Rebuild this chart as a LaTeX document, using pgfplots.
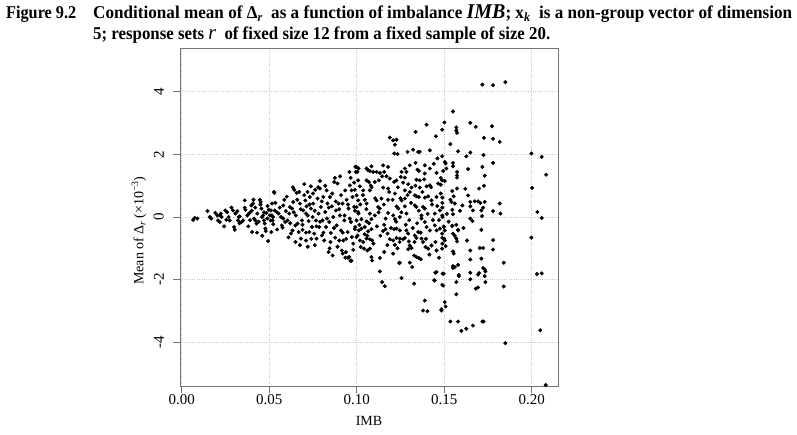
\documentclass[border=0pt]{standalone}
\usepackage{pgfplots}
\pgfplotsset{compat=1.18}
\usepackage{fontspec}
\setmainfont{Liberation Serif}
\begin{document}
\begin{tikzpicture}[x=1pt,y=1pt]
\path[use as bounding box] (0pt,0pt) rectangle (797pt,-435pt);
\node[anchor=base west, inner sep=0] at (6pt,-19pt) {\resizebox{70pt}{\height}{\fontsize{18}{20}\selectfont\bfseries Figure 9.2}};
\node[anchor=base west, inner sep=0] at (93pt,-19pt) {\resizebox{699pt}{\height}{\fontsize{18}{20}\selectfont\bfseries Conditional mean of Δ\textsubscript{\itshape r}\ \ as a function of imbalance {\itshape\fontsize{21}{21}\selectfont IMB}; x\textsubscript{\itshape k}\ \ is a non-group vector of dimension}};
\node[anchor=base west, inner sep=0] at (93pt,-40pt) {\resizebox{457pt}{\height}{\fontsize{18}{20}\selectfont\bfseries 5; response sets {\mdseries\itshape\fontsize{21}{21}\selectfont r}\ \ of fixed size 12 from a fixed sample of size 20.}};
\begin{axis}[
  at={(180pt,-386pt)}, anchor=south west,
  scale only axis, width=378pt, height=338pt,
  xmin=-0.001, xmax=0.215, ymin=-5.4, ymax=5.4,
  axis line style={draw=black!55, line width=0.8pt},
  tick style={draw=black!55, line width=0.8pt},
  tick align=outside, major tick length=7pt, tick pos=left,
  xtick={0,0.05,0.1,0.15,0.2}, xticklabels={0.00,0.05,0.10,0.15,0.20},
  ytick={-4,-2,0,2,4},
  yticklabels={\rotatebox{90}{-4},\rotatebox{90}{-2},\rotatebox{90}{0},\rotatebox{90}{2},\rotatebox{90}{4}},
  grid=major, grid style={dotted, black!22, line width=0.7pt},
  ticklabel style={font=\fontsize{15}{15}\selectfont},
  yticklabel style={anchor=east, inner sep=0pt, xshift=-9pt},
  xticklabel style={anchor=north, yshift=2pt},
  xlabel={IMB}, ylabel={Mean of Δ\textsubscript{\itshape r}\,(×10\textsuperscript{−3})},
  label style={font=\fontsize{14}{14}\selectfont},
  xlabel style={at={(axis description cs:0.5,0)}, anchor=north, inner sep=0pt, yshift=-30pt},
  ylabel style={at={(axis description cs:0,0.46)}, anchor=center, inner sep=0pt, yshift=41pt},
  clip=false,
]
\addplot[only marks, mark=*, mark size=1.8pt, black] coordinates {
(0.0065,-0.09)(0.0074,-0.03)(0.0089,-0.05)(0.0147,0.19)(0.0160,0.0)(0.0169,-0.05)(0.0192,0.13)(0.0204,0.05)(0.0207,-0.11)(0.0217,-0.16)(0.0223,0.11)(0.0227,0.0)(0.0242,-0.30)(0.0249,0.21)(0.0255,-0.09)(0.0268,0.0)(0.0274,-0.11)(0.0284,0.30)(0.0293,0.21)(0.0299,-0.32)(0.0303,-0.41)(0.0307,0.11)(0.0318,0.19)(0.0322,-0.11)(0.0326,0.0)(0.0331,0.02)(0.0341,-0.16)(0.0350,-0.11)(0.0360,0.53)(0.0364,0.23)(0.0375,0.05)(0.0383,0.11)(0.0388,0.13)(0.0398,0.37)(0.0402,-0.48)(0.0407,0.43)(0.0413,-0.05)(0.0421,-0.11)(0.0427,-0.21)(0.0432,0.11)(0.0446,0.55)(0.0451,0.48)(0.0455,0.27)(0.0459,0.0)(0.0465,0.05)(0.0470,-0.11)(0.0474,-0.21)(0.0478,-0.37)(0.0484,0.13)(0.0489,-0.05)(0.0493,-0.77)(0.0497,0.23)(0.0503,0.05)(0.0508,-0.11)(0.0512,-0.48)(0.0516,0.43)(0.0522,0.0)(0.0527,0.80)(0.0531,0.21)
(0.022,0.05)(0.026,0.15)(0.033,-0.2)(0.036,0.3)(0.038,-0.3)(0.040,0.2)(0.042,0.3)(0.044,-0.15)(0.045,0.4)(0.047,0.15)(0.048,-0.45)(0.049,0.35)(0.046,-0.6)(0.043,-0.5)(0.039,-0.1)(0.041,0.55)
(0.0529,0.77)(0.0510,0.21)(0.0515,0.05)(0.0519,-0.11)(0.0523,-0.23)(0.0542,0.16)(0.0553,0.11)(0.0567,0.0)(0.0572,-0.27)(0.0576,-0.34)(0.0580,0.37)(0.0586,0.55)(0.0595,0.19)(0.0591,-0.16)(0.0605,-0.11)(0.0614,0.11)(0.0618,0.32)(0.0624,-0.53)(0.0630,0.27)(0.0633,-0.43)(0.0637,0.48)(0.0643,0.87)(0.0649,-0.27)(0.0652,0.05)(0.0656,0.77)(0.0662,-0.21)(0.0668,-0.48)(0.0671,0.80)(0.0675,0.43)(0.0681,-0.69)(0.0687,-0.11)(0.0690,-0.41)(0.0694,0.21)(0.0700,1.05)(0.0706,0.53)(0.0710,-0.75)(0.0710,0.11)(0.0713,0.34)(0.0719,0.80)(0.0725,-0.13)(0.0729,-0.48)(0.0732,0.64)(0.0738,0.27)(0.0738,0.98)(0.0744,-0.32)(0.0748,0.0)(0.0751,0.43)(0.0757,-0.53)(0.0763,0.87)(0.0767,-0.11)(0.0770,-0.69)(0.0776,0.59)(0.0782,0.11)(0.0786,-0.32)(0.0790,0.91)(0.0795,0.32)(0.0801,-0.59)(0.0805,-0.11)(0.0809,0.64)(0.0814,-0.75)(0.0820,0.16)(0.0824,-0.32)(0.0828,0.85)(0.0833,0.43)(0.0839,-1.12)(0.0843,-0.16)(0.0847,0.64)(0.0852,-0.51)(0.0858,0.34)(0.0862,-1.23)(0.0866,0.0)(0.0871,1.12)(0.0877,-0.66)(0.0881,0.21)(0.0885,-0.27)(0.0890,1.07)(0.0896,0.43)(0.0900,-0.75)(0.0904,0.05)(0.0910,-0.43)(0.0915,-1.07)(0.0919,0.43)(0.0923,-0.75)(0.0929,-0.11)(0.0934,0.85)(0.0938,-1.12)(0.0942,0.55)(0.0948,-0.48)(0.0953,0.27)(0.0957,-1.28)(0.0961,1.01)(0.0967,-0.16)(0.0972,-0.64)(0.0976,0.64)(0.0980,-0.85)(0.0986,0.32)(0.0991,-0.32)(0.0995,1.44)(0.0999,0.69)(0.1005,-0.59)(0.1010,1.55)(0.1010,0.11)
(0.0535,0.45)(0.0545,-0.4)(0.056,0.3)(0.058,-0.05)(0.060,0.65)(0.062,-0.2)(0.064,0.15)(0.065,-0.8)(0.066,0.55)(0.068,0.25)(0.069,-0.25)(0.070,0.7)(0.071,-0.5)(0.072,0.05)(0.073,0.4)(0.074,-0.7)(0.075,0.75)(0.076,0.2)(0.077,-0.3)(0.078,0.95)(0.079,-0.15)(0.080,0.5)(0.081,-0.5)(0.082,1.0)(0.083,-0.05)(0.084,0.3)(0.085,-0.8)(0.086,0.75)(0.087,-0.35)(0.088,0.5)(0.089,-0.95)(0.090,0.25)(0.091,0.7)(0.092,-0.5)(0.093,0.05)(0.094,-0.7)(0.095,0.4)(0.096,-0.05)(0.097,0.85)(0.098,-1.05)(0.099,0.2)(0.0905,1.3)(0.0935,-1.3)(0.0965,1.25)(0.097,-1.4)(0.0985,1.1)(0.0875,1.25)(0.076,-0.9)(0.079,1.15)(0.072,-0.95)(0.0675,-0.9)(0.0635,0.95)(0.061,-0.65)(0.0845,-1.0)
(0.0964,-1.40)(0.0949,-1.30)(0.0920,-1.17)(0.0958,1.44)(0.0992,1.60)
(0.1399,2.95)(0.1336,2.72)(0.1488,2.79)(0.1452,2.58)(0.1189,2.54)(0.1208,2.45)(0.1227,2.47)(0.1218,2.31)(0.1214,2.03)(0.1233,2.01)(0.1290,2.08)(0.1322,2.15)(0.1351,2.08)(0.1360,2.08)(0.1418,2.13)(0.1461,1.87)(0.1488,1.94)(0.1336,1.73)(0.1303,1.65)(0.1275,1.55)(0.1256,1.44)(0.1284,1.44)(0.1347,1.51)(0.1355,1.47)(0.1389,1.65)(0.1418,1.55)(0.1456,1.41)(0.1494,1.47)(0.0999,1.60)(0.1004,1.44)(0.1056,1.55)(0.1065,1.49)(0.1075,1.47)(0.1084,1.62)(0.1094,1.44)(0.1113,1.44)(0.1132,1.41)(0.1151,1.65)(0.1179,1.60)(0.1157,1.44)(0.1170,1.30)(0.1008,1.17)(0.1018,0.98)(0.1056,1.17)(0.1069,1.12)(0.1080,1.01)(0.1103,1.12)(0.1126,1.17)(0.1189,1.23)(0.1214,1.12)(0.1227,1.17)(0.1252,1.28)(0.1275,1.26)(0.1294,1.05)(0.1313,0.94)(0.1341,1.19)(0.1360,1.17)(0.1389,1.39)(0.1399,0.98)(0.1418,1.01)(0.1465,1.07)(0.1488,1.17)(0.0989,0.87)(0.1037,0.85)(0.1075,0.85)(0.1151,0.94)(0.1179,0.91)(0.1218,0.75)(0.1275,0.85)(0.1303,0.80)(0.1360,0.94)(0.1332,0.69)(0.1341,0.66)(0.1355,0.64)(0.1389,0.62)(0.1408,0.66)(0.1456,0.64)(0.1480,0.75)(0.1046,0.55)(0.1008,0.53)(0.1113,0.53)(0.1141,0.59)(0.1179,0.55)(0.1256,0.53)(0.1275,0.59)(0.1427,0.53)(0.0999,0.32)(0.1056,0.43)(0.1122,0.32)(0.1132,0.27)(0.1227,0.34)(0.1237,0.27)(0.1275,0.34)(0.1332,0.37)(0.1341,0.32)(0.1379,0.32)(0.1389,0.27)(0.1475,0.21)(0.1008,0.16)(0.1075,0.11)(0.1103,0.05)(0.1179,0.13)(0.1208,0.05)(0.1284,0.11)(0.1370,0.05)(0.1446,0.11)
(0.0999,-0.11)(0.1027,-0.07)(0.1056,-0.14)(0.1084,-0.07)(0.0989,-0.39)(0.1012,-0.43)(0.1027,-0.37)(0.1046,-0.32)(0.1065,-0.46)(0.1084,-0.39)(0.0999,-0.64)(0.1018,-0.75)(0.1037,-0.80)(0.1056,-0.69)(0.1075,-0.71)(0.1088,-0.75)(0.1023,-0.96)(0.1042,-1.01)(0.1061,-1.07)(0.1075,-1.01)(0.1084,-1.28)(0.1088,-1.39)(0.1132,-1.31)(0.1132,-1.74)(0.1145,-2.08)(0.1160,-2.21)(0.1157,-0.25)(0.1164,-0.39)(0.1176,-0.53)(0.1189,-0.71)(0.1208,-0.75)(0.1157,-1.12)(0.1214,-0.39)(0.1227,-0.37)(0.1246,-0.43)(0.1218,-0.07)(0.1246,0.0)(0.1227,-0.67)(0.1246,-0.69)(0.1265,-0.71)(0.1218,-0.89)(0.1233,-1.0)(0.1208,-1.17)(0.1246,-1.46)(0.1256,-1.95)(0.1284,-0.43)(0.1294,-0.53)(0.1275,-0.67)(0.1298,-0.78)(0.1303,-0.91)(0.1313,-0.99)(0.1294,-1.03)(0.1303,-1.46)(0.1317,-1.60)(0.1328,-1.23)(0.1341,-1.28)(0.1355,-1.31)(0.1366,-1.35)(0.1328,-2.13)(0.1332,-0.59)(0.1341,-0.67)(0.1351,-0.48)(0.1370,-0.69)(0.1379,-0.80)(0.1370,-0.05)(0.1389,-0.16)(0.1399,-0.32)(0.1418,-0.43)(0.1393,-0.96)(0.1408,-1.01)(0.1427,-0.91)(0.1446,-0.27)(0.1456,-0.43)(0.1475,-0.37)(0.1488,-0.53)(0.1499,-0.69)(0.1456,-1.07)(0.1488,-1.01)(0.1456,-1.76)(0.1446,-2.03)(0.1494,-2.19)(0.1389,-2.67)(0.1379,-2.99)(0.1404,-3.01)(0.1484,-2.99)
(0.1491,-1.81)(0.1449,-1.78)(0.1443,-2.02)(0.1243,-1.47)
(0.1015,-0.25)(0.1035,0.7)(0.1045,-0.55)(0.1055,0.25)(0.1070,-0.2)(0.1085,0.95)(0.1095,-0.85)(0.1105,0.6)(0.1115,-0.3)(0.1125,0.15)(0.1135,-0.6)(0.1145,1.3)(0.1155,0.4)(0.1165,-0.05)(0.1175,-0.9)(0.1185,0.8)(0.1195,-0.35)(0.1205,0.55)(0.1225,-0.15)(0.1235,0.95)(0.1245,-0.8)(0.1255,0.15)(0.1265,1.1)(0.1280,-0.25)(0.1290,0.7)(0.1300,-0.1)(0.1310,0.45)(0.1320,-0.35)(0.1335,1.0)(0.1345,-0.2)(0.1355,0.2)(0.1365,-0.5)(0.1375,0.8)(0.1385,1.2)(0.1395,-0.7)(0.1405,0.1)(0.1415,-1.2)(0.1425,0.95)(0.1435,-0.1)(0.1440,1.7)(0.1450,-0.8)(0.1460,0.35)(0.1470,-1.3)(0.1480,1.25)(0.1490,0.0)(0.1470,-0.1)(0.1430,0.4)(0.1330,-0.8)(0.1250,0.6)(0.1150,-0.45)(0.1060,-0.6)(0.1020,0.4)
(0.1718,4.23)(0.1779,4.21)(0.1849,4.31)(0.1550,3.37)(0.1501,3.02)(0.1649,3.01)(0.1680,2.88)(0.1773,2.90)(0.1569,2.86)(0.1569,2.77)(0.1573,2.69)(0.1727,2.53)(0.1779,2.50)(0.1817,2.40)(0.1535,2.33)(0.1579,2.10)(0.1649,2.06)(0.1626,1.94)(0.1724,1.98)(0.1779,1.73)(0.1998,2.03)(0.2057,1.92)(0.2082,1.35)(0.1503,1.76)(0.1508,1.71)(0.1550,1.73)(0.1550,1.62)(0.1636,1.53)(0.1573,1.44)(0.1573,1.33)(0.1573,1.26)(0.1718,1.60)(0.1731,1.32)(0.1512,1.55)(0.1503,1.15)(0.1480,1.03)(0.1727,1.00)(0.1699,0.91)(0.2002,0.93)(0.1546,0.83)(0.1573,0.91)(0.1554,0.66)(0.1489,0.62)(0.1489,0.45)(0.1636,0.69)(0.1541,0.48)(0.1560,0.43)(0.1604,0.37)(0.1649,0.48)(0.1674,0.50)(0.1693,0.50)(0.1706,0.45)(0.1731,0.48)(0.1817,0.43)(0.1649,0.34)(0.1664,0.21)(0.1722,0.30)(0.1712,0.21)(0.1779,0.19)(0.1821,0.11)(0.2032,0.16)(0.2057,-0.03)(0.1489,0.30)(0.1546,0.23)(0.1550,0.09)(0.1489,0.05)(0.1649,-0.05)(0.1661,-0.13)(0.1716,0.03)(0.1497,-0.30)(0.1546,-0.28)(0.1569,-0.25)(0.1579,-0.41)(0.1712,-0.41)
(0.1497,-0.32)(0.1546,-0.29)(0.1503,-0.43)(0.1550,-0.53)(0.1579,-0.43)(0.1489,-0.67)(0.1503,-0.75)(0.1569,-0.69)(0.1573,-0.78)(0.1630,-0.75)(0.1779,-0.74)(0.1998,-0.66)(0.1489,-0.85)(0.1508,-0.93)(0.1703,-0.99)(0.1722,-0.99)(0.1779,-1.04)(0.1649,-1.07)(0.1550,-1.10)(0.1554,-1.17)(0.1649,-1.36)(0.1712,-1.33)(0.1579,-1.53)(0.1550,-1.57)(0.1550,-1.63)(0.1560,-1.60)(0.1840,-1.46)(0.1497,-1.81)(0.1583,-1.85)(0.1583,-1.89)(0.1649,-1.78)(0.1699,-1.79)(0.1693,-1.84)(0.1731,-1.67)(0.1722,-1.63)(0.1735,-1.74)(0.1731,-1.89)(0.1649,-1.99)(0.2030,-1.82)(0.2057,-1.80)(0.1569,-2.08)(0.1489,-2.17)(0.1735,-2.08)(0.1840,-2.22)(0.1693,-2.25)(0.1680,-2.29)(0.1569,-2.47)(0.1503,-2.72)(0.1508,-2.86)(0.1484,-2.95)(0.1535,-3.34)(0.1579,-3.34)(0.1718,-3.34)(0.1725,-3.34)(0.1598,-3.64)(0.1626,-3.57)(0.1664,-3.47)(0.2049,-3.62)(0.1849,-4.03)(0.2080,-5.37)
(0.1515,0.1)(0.1525,-0.15)(0.1535,0.55)(0.1560,-0.6)(0.1590,0.2)(0.1610,-0.35)(0.1620,0.9)
};
\end{axis}
\end{tikzpicture}
\end{document}
